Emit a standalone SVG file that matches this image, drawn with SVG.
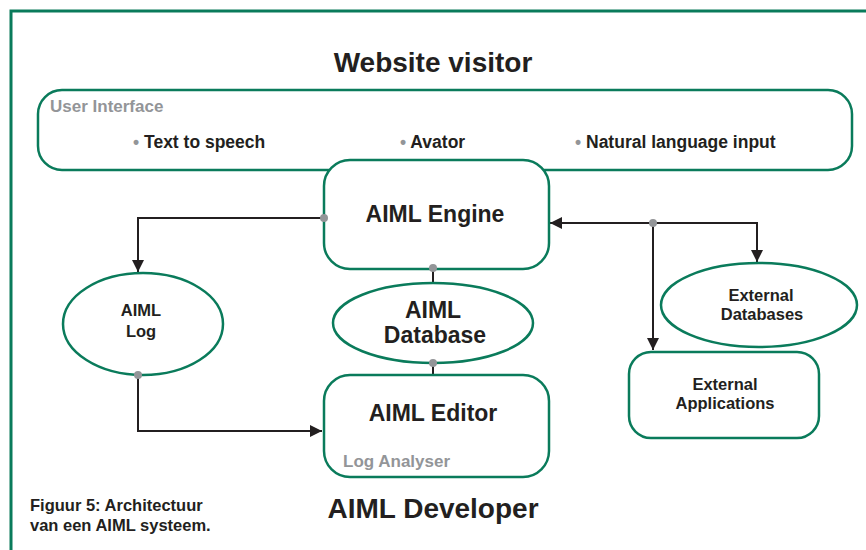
<svg xmlns="http://www.w3.org/2000/svg" width="866" height="550" viewBox="0 0 866 550">
  <defs>
    <style>
      .box { fill: #ffffff; stroke: #0a7b5b; stroke-width: 2.5; }
      .frame { fill: none; stroke: #0a7b5b; stroke-width: 3; }
      .wire { fill: none; stroke: #231f20; stroke-width: 2; }
      .dot { fill: #939598; }
      text { font-family: "Liberation Sans", Arial, sans-serif; font-weight: bold; fill: #231f20; }
      .title { font-size: 28px; text-anchor: middle; }
      .big { font-size: 23px; text-anchor: middle; }
      .mid { font-size: 16.5px; text-anchor: middle; }
      .grey { fill: #939598; }
      .item { font-size: 17.5px; }
      .label { font-size: 17px; }
      .cap { font-size: 16.5px; }
    </style>
    <marker id="head" viewBox="0 0 10 10" refX="10" refY="5" markerWidth="6" markerHeight="6" markerUnits="strokeWidth" orient="auto">
      <path d="M0,0 L10,5 L0,10 z" fill="#231f20"/>
    </marker>
  </defs>

  <!-- outer frame: top and left edges -->
  <path class="frame" d="M11,550 L11,11 L866,11"/>

  <text class="title" x="433" y="72">Website visitor</text>

  <g id="user-interface">
    <rect class="box" x="38" y="90" width="814" height="80" rx="24"/>
    <text class="label grey" x="50" y="112">User Interface</text>
    <text class="item" x="133" y="148"><tspan class="grey">•</tspan> Text to speech</text>
    <text class="item" x="400" y="148"><tspan class="grey">•</tspan> Avator</text>
    <text class="item" x="575" y="148"><tspan class="grey">•</tspan> Natural language input</text>
  </g>

  <g id="connectors">
    <!-- engine to log -->
    <path class="wire" d="M324,218 L138,218 L138,272" marker-end="url(#head)"/>
    <!-- engine to database -->
    <path class="wire" d="M433,268 L433,284"/>
    <!-- database to editor -->
    <path class="wire" d="M433,363 L433,376"/>
    <!-- log to editor -->
    <path class="wire" d="M138,375 L138,431 L322,431" marker-end="url(#head)"/>
    <!-- external sources to engine -->
    <path class="wire" d="M757,223 L550,223" marker-end="url(#head)"/>
    <path class="wire" d="M653,223 L757,223 L757,262" marker-end="url(#head)"/>
    <path class="wire" d="M653,223 L653,350" marker-end="url(#head)"/>
  </g>

  <g id="aiml-engine">
    <rect class="box" x="324" y="160" width="225" height="109" rx="26"/>
    <text class="big" x="435" y="222">AIML Engine</text>
  </g>

  <g id="aiml-log">
    <ellipse class="box" cx="143" cy="324" rx="80" ry="51"/>
    <text class="mid" x="141" y="316">AIML</text>
    <text class="mid" x="141" y="337">Log</text>
  </g>

  <g id="aiml-database">
    <ellipse class="box" cx="433" cy="323" rx="100" ry="40"/>
    <text class="big" x="433" y="318">AIML</text>
    <text class="big" x="435" y="343">Database</text>
  </g>

  <g id="aiml-editor">
    <rect class="box" x="324" y="375" width="225" height="102" rx="26"/>
    <text class="big" x="433" y="421">AIML Editor</text>
    <text class="label grey" x="343" y="467">Log Analyser</text>
  </g>

  <g id="external-databases">
    <ellipse class="box" cx="759" cy="305" rx="98" ry="42"/>
    <text class="mid" x="761" y="301">External</text>
    <text class="mid" x="762" y="320">Databases</text>
  </g>

  <g id="external-applications">
    <rect class="box" x="629" y="352" width="190" height="86" rx="22"/>
    <text class="mid" x="725" y="390">External</text>
    <text class="mid" x="725" y="409">Applications</text>
  </g>

  <!-- junction dots -->
  <g id="junctions">
    <circle class="dot" cx="324" cy="218" r="4"/>
    <circle class="dot" cx="433" cy="268" r="4"/>
    <circle class="dot" cx="433" cy="363" r="4"/>
    <circle class="dot" cx="138" cy="375" r="4"/>
    <circle class="dot" cx="653" cy="223" r="4"/>
  </g>

  <text class="title" x="433" y="518">AIML Developer</text>

  <text class="cap" x="30" y="511">Figuur 5: Architectuur</text>
  <text class="cap" x="30" y="531">van een AIML systeem.</text>
</svg>
